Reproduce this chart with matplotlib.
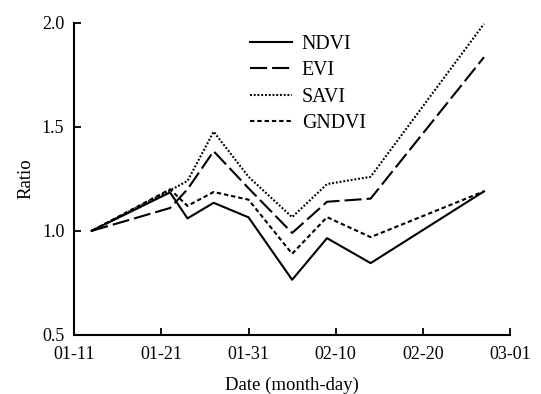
import matplotlib
matplotlib.use("Agg")
import matplotlib.pyplot as plt

# Days since 01-11 for each observation date
days = [2, 11, 13, 16, 20, 25, 29, 34, 47]
ndvi = [1.00, 1.185, 1.06, 1.135, 1.065, 0.765, 0.965, 0.845, 1.19]
evi = [1.00, 1.11, 1.20, 1.383, 1.205, 0.99, 1.14, 1.155, 1.835]
savi = [1.00, 1.195, 1.24, 1.477, 1.26, 1.066, 1.225, 1.26, 1.995]
gndvi = [1.00, 1.20, 1.12, 1.187, 1.15, 0.89, 1.066, 0.97, 1.19]

tick_days = [0, 10, 20, 30, 40, 50]
tick_labels = ["01-11", "01-21", "01-31", "02-10", "02-20", "03-01"]
y_ticks = [0.5, 1.0, 1.5, 2.0]

plt.rcParams['font.family'] = ['Liberation Serif', 'DejaVu Serif']

fig = plt.figure(figsize=(5.41, 3.94), dpi=100)
ax = fig.add_axes([0.137, 0.150, 0.806, 0.792])

lw = 1.5
ax.plot(days, ndvi, color='black', lw=lw, linestyle='-', label='NDVI')
ax.plot(days, evi, color='black', lw=lw, dashes=(8.2, 2.4), label='EVI')
ax.plot(days, savi, color='black', lw=lw, dashes=(0.9, 0.9), label='SAVI')
ax.plot(days, gndvi, color='black', lw=lw, dashes=(2.1, 1.4), label='GNDVI')

ax.set_xlim(0, 50)
ax.set_ylim(0.5, 2.0)
ax.set_xticks(tick_days)
ax.set_xticklabels(tick_labels)
ax.set_yticks(y_ticks)
ax.set_yticklabels([f"{v:.1f}" for v in y_ticks])

for s in ['top', 'right']:
    ax.spines[s].set_visible(False)
for s in ['left', 'bottom']:
    ax.spines[s].set_linewidth(1.5)
ax.tick_params(direction='in', length=5, width=1.3, labelsize=13)
ax.tick_params(axis='x', pad=8)
ax.tick_params(axis='y', pad=7)

ax.set_xlabel('Date (month-day)', fontsize=13.5, labelpad=10)
ax.set_ylabel('Ratio', fontsize=13.5, labelpad=5)

leg = ax.legend(loc='upper left', bbox_to_anchor=(250/541, 1-35/394),
                bbox_transform=fig.transFigure, frameon=False,
                fontsize=14.3, handlelength=2.1, handletextpad=0.5,
                borderpad=0, borderaxespad=0, labelspacing=0.37)

fig.savefig('out.png', dpi=100)
